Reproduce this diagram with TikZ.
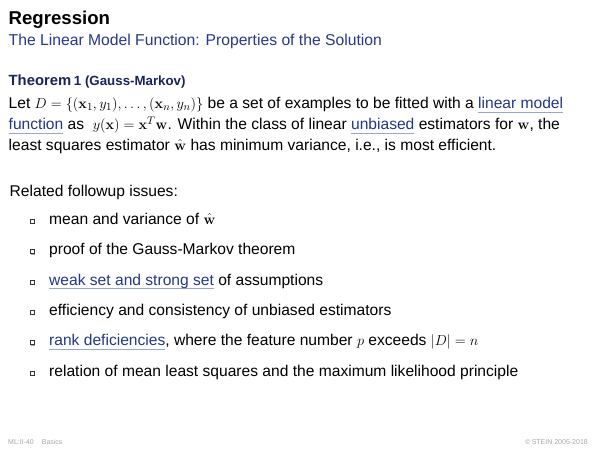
\documentclass[tikz,border=0pt]{standalone}
\usepackage[no-math]{fontspec}
\setmainfont{Liberation Sans}
\definecolor{subc}{RGB}{40,55,135}
\definecolor{thmc}{RGB}{25,35,95}
\definecolor{lnkc}{RGB}{35,55,135}
\definecolor{ulc}{RGB}{150,165,210}
\definecolor{footc}{RGB}{165,165,165}
\newcommand\lnk[1]{\setbox0\hbox{#1}\rlap{\color{ulc}\rule[-4pt]{\wd0}{0.6pt}}{\color{lnkc}\box0}}
\tikzset{
  txt/.style={anchor=base west, inner sep=0pt, font=\fontsize{15.6}{18}\selectfont},
  body/.style={anchor=base west, inner sep=0pt, font=\fontsize{15.6}{18}\selectfont},
  ttl/.style={anchor=base west, inner sep=0pt, font=\fontsize{18.6}{22}\selectfont\bfseries},
  subt/.style={anchor=base west, inner sep=0pt, text=subc, font=\fontsize{15.7}{18}\selectfont},
  foot/.style={inner sep=0pt, text=footc, font=\fontsize{7}{8}\selectfont},
  bul/.style={draw=black!80, fill=white, line width=0.5pt}
}
\newcommand\itembox[1]{%
  \fill[black!35] (31,#1-4) rectangle (35,#1);
  \draw[bul] (30,#1-5) rectangle (34,#1-1);
}
\begin{document}
\begin{tikzpicture}[x=1pt,y=-1pt]
\useasboundingbox (0,0) rectangle (600,450);
\node[ttl] (title) at (8.5,24) {Regression};
\node[subt] (subtitle) at (8.5,45) {The Linear Model Function: Properties of the Solution};
\node[anchor=base west, inner sep=0pt, text=thmc] (thm) at (8.5,85)
  {{\fontsize{14.8}{17}\selectfont\bfseries Theorem} {\fontsize{13.3}{15}\selectfont\bfseries 1 (Gauss-Markov)}};
\node[body] (l1) at (8.5,108.3) {Let $D=\{(\mathbf{x}_1,y_1),\ldots,(\mathbf{x}_n,y_n)\}$ be a set of examples to be fitted with a \lnk{linear model}};
\node[body] (l2) at (8.5,129.3) {\lnk{function} as \ $y(\mathbf{x})=\mathbf{x}^T\mathbf{w}$. Within the class of linear \lnk{unbiased} estimators for $\mathbf{w}$, the};
\node[body] (l3) at (8.5,150) {least squares estimator $\hat{\mathbf{w}}$ has minimum variance, i.e., is most efficient.};
\node[txt] (rel) at (9.5,196.7) {Related followup issues:};
\foreach \yy/\nm/\tx in {
  224/i1/{mean and variance of $\hat{\mathbf{w}}$},
  254.5/i2/{proof of the Gauss-Markov theorem},
  285/i3/{\lnk{weak set and strong set} of assumptions},
  315/i4/{efficiency and consistency of unbiased estimators},
  345.5/i5/{\lnk{rank deficiencies}, where the feature number $p$ exceeds $|D|=n$},
  376/i6/{relation of mean least squares and the maximum likelihood principle}} {
  \itembox{\yy}
  \node[txt] (\nm) at (49,\yy) {\tx};
}
\node[foot, anchor=base west] (fl) at (8,444) {ML:II-40\hspace{8pt}Basics};
\node[foot, anchor=base east] (fr) at (588,444) {©\,STEIN 2005-2018};
\end{tikzpicture}
\end{document}
